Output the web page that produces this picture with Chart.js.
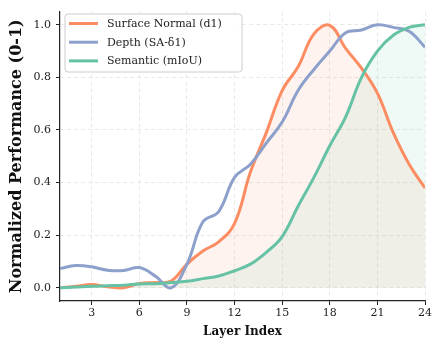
<!DOCTYPE html>
<html>
<head>
<meta charset="utf-8">
<script src="https://cdn.jsdelivr.net/npm/chart.js@4.4.1/dist/chart.umd.min.js"></script>
<style>
    html, body { margin: 0; padding: 0; background: #fff; }
    canvas { display: block; }
</style>
</head>
<body>
<canvas id="chart" width="434" height="339"></canvas>
<script>
const layers = [ 1, 2, 3, 4, 5, 6, 7, 8, 9, 10, 11, 12, 13, 14, 15, 16, 17, 18, 19, 20, 21, 22, 23, 24 ];

const surfaceNormal = [ 0.0, 0.006, 0.013, 0.004, 0.0, 0.017, 0.02, 0.026, 0.09, 0.14, 0.175, 0.245,
                        0.44, 0.59, 0.75, 0.84, 0.965, 0.998, 0.91, 0.835, 0.74, 0.59, 0.47, 0.38 ];
const depth         = [ 0.073, 0.085, 0.08, 0.067, 0.066, 0.077, 0.045, 0.0, 0.09, 0.25, 0.29, 0.42,
                        0.47, 0.55, 0.63, 0.75, 0.83, 0.90, 0.97, 0.98, 1.0, 0.99, 0.975, 0.915 ];
const semantic      = [ 0.0, 0.003, 0.006, 0.008, 0.01, 0.015, 0.016, 0.02, 0.025, 0.035, 0.045, 0.065,
                        0.09, 0.135, 0.195, 0.31, 0.42, 0.54, 0.65, 0.80, 0.90, 0.96, 0.99, 1.0 ];

const xTicks = [ 3, 6, 9, 12, 15, 18, 21, 24 ];
const yTicks = [ 0, 0.2, 0.4, 0.6, 0.8, 1.0 ];

const SERIES = [
    { label: 'Surface Normal (d1)', data: surfaceNormal, colour: '#fc8d62', fillAlpha: 0.1, fill: true },
    { label: 'Depth (SA-δ1)',       data: depth,         colour: '#8da0cb', fillAlpha: 0,   fill: false },
    { label: 'Semantic (mIoU)',     data: semantic,      colour: '#66c2a5', fillAlpha: 0.1, fill: true },
];

const FONT = '"DejaVu Serif", serif';

function withAlpha( hex, a ) {
    const n = parseInt( hex.slice( 1 ), 16 );
    return `rgba(${ n >> 16 },${ ( n >> 8 ) & 255 },${ n & 255 },${ a })`;
}

// matplotlib-ish legend box in the upper left corner of the plot
const boxLegend = {
    id: 'boxLegend',
    afterDraw( chart ) {
        const ctx = chart.ctx;
        const x = 65, y = 14, w = 177, h = 58;
        ctx.save();
        ctx.beginPath();
        ctx.roundRect( x, y, w, h, 3 );
        ctx.fillStyle = 'rgba(255,255,255,0.85)';
        ctx.fill();
        ctx.strokeStyle = '#cccccc';
        ctx.lineWidth = 1;
        ctx.stroke();

        ctx.font = `11px ${ FONT }`;
        ctx.textBaseline = 'middle';
        ctx.fillStyle = '#222';
        SERIES.forEach( ( s, i ) => {
            const cy = 23.5 + i * 18.7;
            ctx.beginPath();
            ctx.moveTo( 69, cy );
            ctx.lineTo( 98, cy );
            ctx.strokeStyle = s.colour;
            ctx.lineWidth = 3;
            ctx.stroke();
            ctx.fillText( s.label, 107, cy + 0.5 );
        } );
        ctx.restore();
    },
};

new Chart( document.getElementById( 'chart' ), {
    type: 'line',
    data: {
        datasets: SERIES.map( ( s, i ) => ( {
            label: s.label,
            data: layers.map( ( l, j ) => ( { x: l, y: s.data[ j ] } ) ),
            borderColor: s.colour,
            backgroundColor: withAlpha( s.colour, s.fillAlpha ),
            borderWidth: 3,
            pointRadius: 0,
            tension: 0.4,
            fill: s.fill ? { value: 0 } : false,
            order: SERIES.length - i,
        } ) ),
    },
    options: {
        responsive: false,
        animation: false,
        devicePixelRatio: 1,
        layout: { padding: { top: 7, right: 7, left: 0, bottom: 0 } },
        plugins: {
            legend: { display: false },
            tooltip: { enabled: false },
            filler: { drawTime: 'beforeDatasetsDraw' },
        },
        scales: {
            x: {
                type: 'linear',
                min: 1,
                max: 24,
                afterBuildTicks: ( scale ) => { scale.ticks = xTicks.map( ( v ) => ( { value: v } ) ); },
                afterFit: ( scale ) => { scale.height = 38; },
                ticks: { font: { family: FONT, size: 11 }, color: '#222', padding: 2, maxRotation: 0 },
                grid: { color: '#e3e3e3', lineWidth: 0.8, tickColor: '#222', tickLength: 4, tickWidth: 1 },
                border: { color: '#222', width: 1.2, dash: [ 4, 3 ] },
                title: { display: true, text: 'Layer Index', font: { family: FONT, size: 12, weight: 'bold' }, color: '#111', padding: { top: 0, bottom: 0 } },
            },
            y: {
                min: -0.05,
                max: 1.05,
                afterBuildTicks: ( scale ) => { scale.ticks = yTicks.map( ( v ) => ( { value: v } ) ); },
                afterFit: ( scale ) => { scale.width = 60; },
                ticks: { font: { family: FONT, size: 11 }, color: '#222', padding: 5, callback: ( v ) => v.toFixed( 1 ) },
                grid: { color: '#e3e3e3', lineWidth: 0.8, tickColor: '#222', tickLength: 4, tickWidth: 1 },
                border: { color: '#222', width: 1.2, dash: [ 4, 3 ] },
                title: { display: true, text: 'Normalized Performance (0-1)', font: { family: FONT, size: 16, weight: 'bold' }, color: '#111', padding: { top: 7, bottom: 0 } },
            },
        },
    },
    plugins: [ boxLegend ],
} );
</script>
</body>
</html>
